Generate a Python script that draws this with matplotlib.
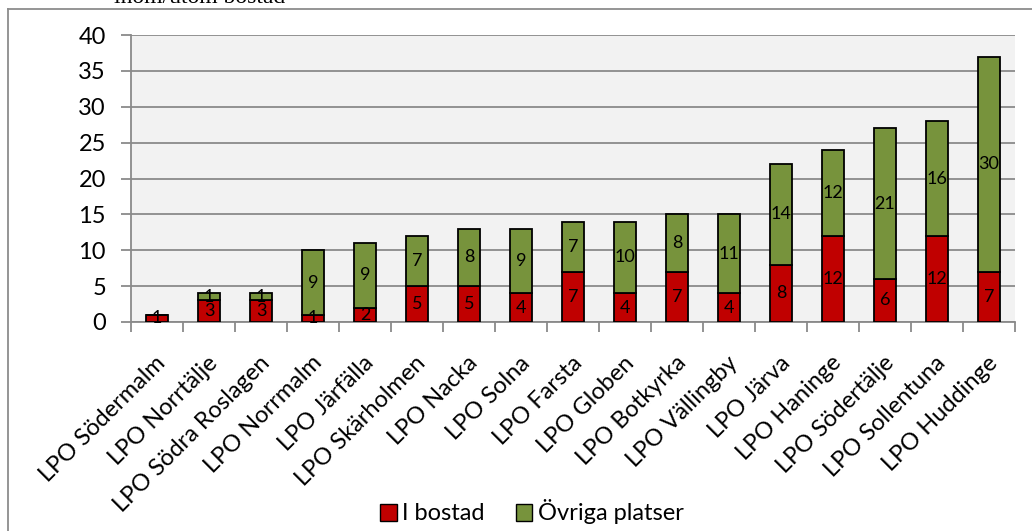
import numpy as np
import matplotlib.pyplot as plt
import matplotlib.transforms as mtransforms
from matplotlib.patches import Rectangle
from matplotlib.lines import Line2D

plt.rcParams['font.family'] = ['Lato', 'DejaVu Sans']

omraden = ["LPO Södermalm", "LPO Norrtälje", "LPO Södra Roslagen", "LPO Norrmalm",
           "LPO Järfälla", "LPO Skärholmen", "LPO Nacka", "LPO Solna", "LPO Farsta",
           "LPO Globen", "LPO Botkyrka", "LPO Vällingby", "LPO Järva", "LPO Haninge",
           "LPO Södertälje", "LPO Sollentuna", "LPO Huddinge"]
i_bostad = [1, 3, 3, 1, 2, 5, 5, 4, 7, 4, 7, 4, 8, 12, 6, 12, 7]
ovriga = [0, 1, 1, 9, 9, 7, 8, 9, 7, 10, 8, 11, 14, 12, 21, 16, 30]
y_ticks = [0, 5, 10, 15, 20, 25, 30, 35, 40]

RED = '#C00000'
GREEN = '#77933C'
GRID = '#8A8A8A'

fig = plt.figure(figsize=(10.32, 5.31), dpi=100)
ax = fig.add_axes([131 / 1032, 1 - 322 / 531, (1015 - 131) / 1032, (322 - 35) / 531])
ax.set_facecolor('#F2F2F2')

x = np.arange(len(omraden))
w = 0.41
ax.bar(x, i_bostad, w, color=RED, edgecolor='black', linewidth=1.3, zorder=3)
ax.bar(x, ovriga, w, bottom=i_bostad, color=GREEN, edgecolor='black', linewidth=1.3, zorder=3)

# värdeetiketter mitt i varje segment
for xi, a, b in zip(x, i_bostad, ovriga):
    if a > 0:
        ax.text(xi, a / 2, str(a), ha='center', va='center', fontsize=13, zorder=4)
    if b > 0:
        ax.text(xi, a + b / 2, str(b), ha='center', va='center', fontsize=13, zorder=4)

ax.set_xlim(-0.5, len(omraden) - 0.5)
ax.set_ylim(0, 40)
ax.set_yticks(y_ticks)
ax.yaxis.grid(True, color=GRID, linewidth=1.3, zorder=1)
ax.set_axisbelow(True)

ax.set_xticks(x)
ax.set_xticklabels(omraden, rotation=45, ha='right', rotation_mode='anchor', fontsize=17)
ax.set_xticks(np.arange(len(omraden) + 1) - 0.5, minor=True)
ax.tick_params(axis='x', which='major', length=0, pad=16)
ax.tick_params(axis='x', which='minor', length=7, color=GRID, width=1.3)
ax.tick_params(axis='y', length=7, color=GRID, width=1.3, labelsize=17, pad=11)

# flytta de lutande etiketterna lite nedåt
shift = mtransforms.ScaledTranslation(-2 / 100, -8 / 100, fig.dpi_scale_trans)
for lbl in ax.get_xticklabels():
    lbl.set_transform(lbl.get_transform() + shift)

for s in ['top', 'right']:
    ax.spines[s].set_visible(False)
for s in ['left', 'bottom']:
    ax.spines[s].set_color(GRID)
    ax.spines[s].set_linewidth(1.3)

handles = [Rectangle((0, 0), 1, 1, facecolor=RED, edgecolor='black'),
           Rectangle((0, 0), 1, 1, facecolor=GREEN, edgecolor='black')]
fig.legend(handles, ['I bostad', 'Övriga platser'], loc='center',
           bbox_to_anchor=(532 / 1032, 1 - 512 / 531), ncol=2, frameon=False,
           fontsize=17, handlelength=0.7, handleheight=0.7, handletextpad=0.25,
           columnspacing=1.3)

# ram runt diagrammet
fig.add_artist(Line2D([8 / 1032, 8 / 1032], [0, 1 - 9 / 531],
                      transform=fig.transFigure, color='#8C8C8C', linewidth=1.3))
fig.add_artist(Line2D([8 / 1032, 1], [1 - 9 / 531, 1 - 9 / 531],
                      transform=fig.transFigure, color='#8C8C8C', linewidth=1.3))

fig.text(200 / 1032, 1 - 3 / 531, "inom/utom bostad", ha='center', va='baseline',
         fontsize=17, family=['Liberation Serif', 'DejaVu Serif'])

fig.savefig('out.png', dpi=100)
